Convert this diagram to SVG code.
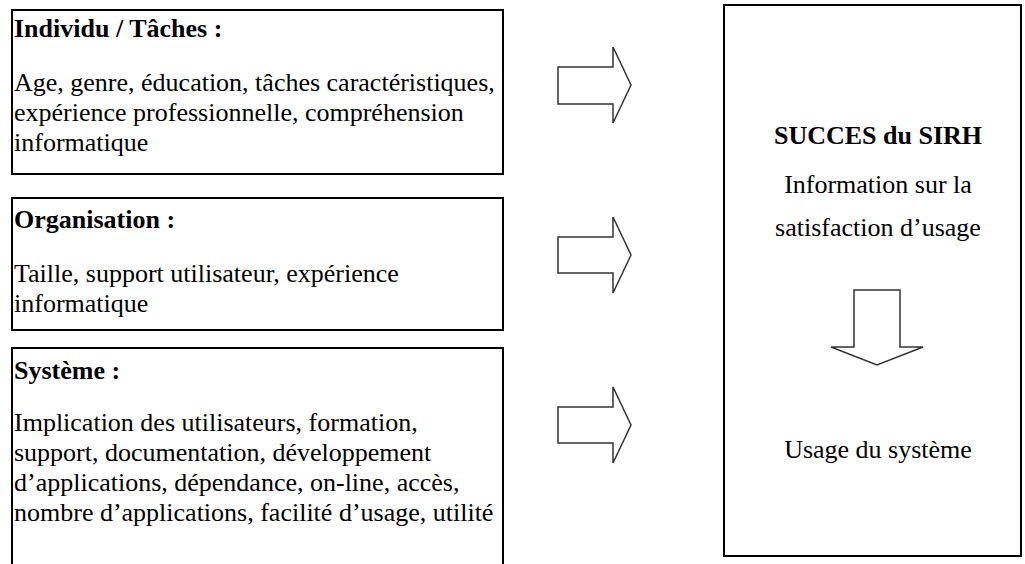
<svg xmlns="http://www.w3.org/2000/svg" width="1025" height="564" viewBox="0 0 1025 564">
<style>
.box{fill:#fff;stroke:#000;stroke-width:2}
.arr{fill:#fff;stroke:#333;stroke-width:1.5;stroke-linejoin:miter}
text{font-family:"Liberation Serif","Times New Roman",serif;font-size:26px;fill:#000}
.b{font-weight:bold}
.c{text-anchor:middle}
</style>
<rect width="1025" height="564" fill="#fff"/>
<g id="individu">
<rect class="box" x="12" y="10" width="491" height="164"/>
<text class="b" x="14" y="37">Individu / Tâches :</text>
<text x="14" y="91">Age, genre, éducation, tâches caractéristiques,</text>
<text x="14" y="121">expérience professionnelle, compréhension</text>
<text x="14" y="151">informatique</text>
</g>
<g id="organisation">
<rect class="box" x="12" y="198" width="491" height="132"/>
<text class="b" x="14" y="228">Organisation :</text>
<text x="14" y="282">Taille, support utilisateur, expérience</text>
<text x="14" y="312">informatique</text>
</g>
<g id="systeme">
<path class="box" d="M12,570 V348 H503 V570"/>
<text class="b" x="14" y="379">Système :</text>
<text x="14" y="431">Implication des utilisateurs, formation,</text>
<text x="14" y="461">support, documentation, développement</text>
<text x="14" y="491">d’applications, dépendance, on-line, accès,</text>
<text x="14" y="521">nombre d’applications, facilité d’usage, utilité</text>
</g>
<g id="succes">
<rect class="box" x="724" y="5" width="297" height="551"/>
<text class="b c" x="878" y="144">SUCCES du SIRH</text>
<text class="c" x="878" y="193">Information sur la</text>
<text class="c" x="878" y="236">satisfaction d’usage</text>
<text class="c" x="878" y="458">Usage du système</text>
</g>
<g id="connectors">
<path class="arr" d="M558,67 H613 V47 L631,85 L613,123 V104 H558 Z"/>
<path class="arr" d="M558,237 H613 V217 L631,255 L613,293 V273 H558 Z"/>
<path class="arr" d="M558,407 H613 V387 L631,425 L613,463 V443 H558 Z"/>
<path class="arr" d="M854,290 H900 V347 H923 L877,365 L831,347 H854 Z"/>
</g>
</svg>
